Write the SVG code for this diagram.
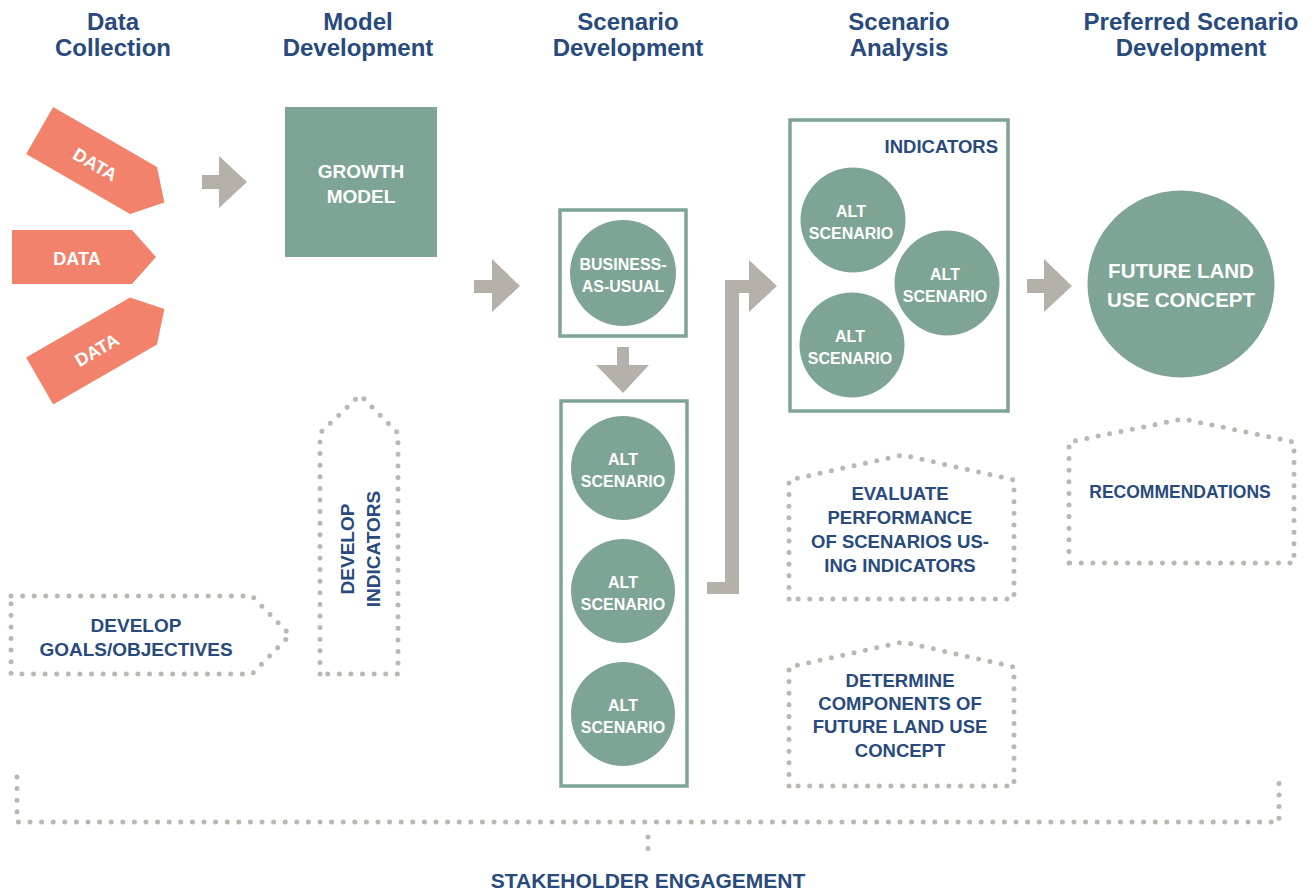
<svg xmlns="http://www.w3.org/2000/svg" width="1312" height="890" viewBox="0 0 1312 890">
<style>
.hdr{font-family:"Liberation Sans",Arial,sans-serif;font-weight:bold;font-size:24px;fill:#284a7c;text-anchor:middle}
.nv{font-family:"Liberation Sans",Arial,sans-serif;font-weight:bold;fill:#284a7c;text-anchor:middle}
.wt{font-family:"Liberation Sans",Arial,sans-serif;font-weight:bold;fill:#ffffff;text-anchor:middle}
.data{fill:#f2826b}
.teal{fill:#7ea495}
.box{fill:none;stroke:#7ea495;stroke-width:3.5}
.arrow{fill:#b6b0aa}
.dots{fill:none;stroke:#bcb7b1;stroke-width:5;stroke-linecap:round;stroke-dasharray:0 11.6}
</style>
<defs>
<path id="dataShape" d="M-72,-27 H48 L72,0 L48,27 H-72 Z"/>
</defs>
<rect width="1312" height="890" fill="#ffffff"/>

<g id="headers">
<text class="hdr" x="113" y="30">Data</text>
<text class="hdr" x="113" y="56">Collection</text>
<text class="hdr" x="358" y="30">Model</text>
<text class="hdr" x="358" y="56">Development</text>
<text class="hdr" x="628" y="30">Scenario</text>
<text class="hdr" x="628" y="56">Development</text>
<text class="hdr" x="899" y="30">Scenario</text>
<text class="hdr" x="899" y="56">Analysis</text>
<text class="hdr" x="1191" y="30">Preferred Scenario</text>
<text class="hdr" x="1191" y="56">Development</text>
</g>

<g id="data-top" transform="translate(102,166.5) rotate(30)">
<use href="#dataShape" class="data"/>
<text class="wt" x="-7" y="8" font-size="18">DATA</text>
</g>
<g id="data-mid" transform="translate(84,257)">
<use href="#dataShape" class="data"/>
<text class="wt" x="-7" y="8" font-size="18">DATA</text>
</g>
<g id="data-bot" transform="translate(102,345) rotate(-30)">
<use href="#dataShape" class="data"/>
<text class="wt" x="-7" y="8" font-size="18">DATA</text>
</g>

<g id="growth-model">
<rect class="teal" x="285" y="107" width="152" height="150"/>
<text class="wt" x="361" y="178" font-size="19">GROWTH</text>
<text class="wt" x="361" y="203" font-size="19">MODEL</text>
</g>

<g id="bau">
<rect class="box" x="560" y="210" width="126" height="126"/>
<circle class="teal" cx="623" cy="273" r="53"/>
<text class="wt" x="623" y="270" font-size="16">BUSINESS-</text>
<text class="wt" x="623" y="292" font-size="16">AS-USUAL</text>
</g>

<g id="alt-scenarios">
<rect class="box" x="561" y="401" width="126" height="385"/>
<circle class="teal" cx="623" cy="468" r="52"/>
<text class="wt" x="623" y="465" font-size="16">ALT</text>
<text class="wt" x="623" y="487" font-size="16">SCENARIO</text>
<circle class="teal" cx="623" cy="591" r="52"/>
<text class="wt" x="623" y="588" font-size="16">ALT</text>
<text class="wt" x="623" y="610" font-size="16">SCENARIO</text>
<circle class="teal" cx="623" cy="714" r="52"/>
<text class="wt" x="623" y="711" font-size="16">ALT</text>
<text class="wt" x="623" y="733" font-size="16">SCENARIO</text>
</g>

<g id="indicators">
<rect class="box" x="790" y="120" width="218" height="291"/>
<text class="nv" x="998" y="153" font-size="18.5" text-anchor="end" style="text-anchor:end">INDICATORS</text>
<circle class="teal" cx="853" cy="220" r="52.5"/>
<text class="wt" x="851" y="217" font-size="16">ALT</text>
<text class="wt" x="851" y="239" font-size="16">SCENARIO</text>
<circle class="teal" cx="947" cy="283" r="52.5"/>
<text class="wt" x="945" y="280" font-size="16">ALT</text>
<text class="wt" x="945" y="302" font-size="16">SCENARIO</text>
<circle class="teal" cx="852" cy="345" r="52.5"/>
<text class="wt" x="850" y="342" font-size="16">ALT</text>
<text class="wt" x="850" y="364" font-size="16">SCENARIO</text>
</g>

<g id="future-land-use">
<circle class="teal" cx="1181" cy="284" r="93.5"/>
<text class="wt" x="1181" y="278" font-size="20.5">FUTURE LAND</text>
<text class="wt" x="1181" y="307" font-size="20.5">USE CONCEPT</text>
</g>

<g id="develop-goals">
<path class="dots" d="M11,596 H252 L290,635 L252,674 H11 Z"/>
<text class="nv" x="136" y="632" font-size="19">DEVELOP</text>
<text class="nv" x="136" y="656" font-size="19">GOALS/OBJECTIVES</text>
</g>

<g id="develop-indicators">
<path class="dots" d="M320,674 V433 L360,395 L398,433 V674 Z"/>
<text class="nv" font-size="19" transform="translate(354,549) rotate(-90)">DEVELOP</text>
<text class="nv" font-size="19" transform="translate(380,549) rotate(-90)">INDICATORS</text>
</g>

<g id="evaluate">
<path class="dots" d="M789,599 V480 L903,455 L1014,480 V599 Z"/>
<text class="nv" x="900" y="500" font-size="18.5">EVALUATE</text>
<text class="nv" x="900" y="524" font-size="18.5">PERFORMANCE</text>
<text class="nv" x="900" y="548" font-size="18.5">OF SCENARIOS US-</text>
<text class="nv" x="900" y="572" font-size="18.5">ING INDICATORS</text>
</g>

<g id="determine">
<path class="dots" d="M789,786 V667 L903,642 L1014,667 V786 Z"/>
<text class="nv" x="900" y="687" font-size="18.5">DETERMINE</text>
<text class="nv" x="900" y="710" font-size="18.5">COMPONENTS OF</text>
<text class="nv" x="900" y="733" font-size="18.5">FUTURE LAND USE</text>
<text class="nv" x="900" y="757" font-size="18.5">CONCEPT</text>
</g>

<g id="recommendations">
<path class="dots" d="M1069,563 V442 L1183,419 L1294,442 V563 Z"/>
<text class="nv" x="1180" y="498" font-size="17.5">RECOMMENDATIONS</text>
</g>

<g id="stakeholder">
<path class="dots" d="M17,777 V822 H1279 V777"/>
<path class="dots" d="M648,837 V852"/>
<text class="nv" x="648" y="888" font-size="21">STAKEHOLDER ENGAGEMENT</text>
</g>

<g id="connectors">
<polygon class="arrow" points="202,175 219,175 219,156 247,182 219,208 219,189 202,189"/>
<polygon class="arrow" points="474,280 492,280 492,259 520,286 492,312 492,293 474,293"/>
<polygon class="arrow" points="617,347 629,347 629,365 649,365 623,393 596,365 617,365"/>
<polygon class="arrow" points="707,594 739,594 739,293 749,293 749,312 777,286 749,260 749,280 725,280 725,582 707,582"/>
<polygon class="arrow" points="1027,279 1044,279 1044,259 1072,286 1044,312 1044,293 1027,293"/>
</g>
</svg>
